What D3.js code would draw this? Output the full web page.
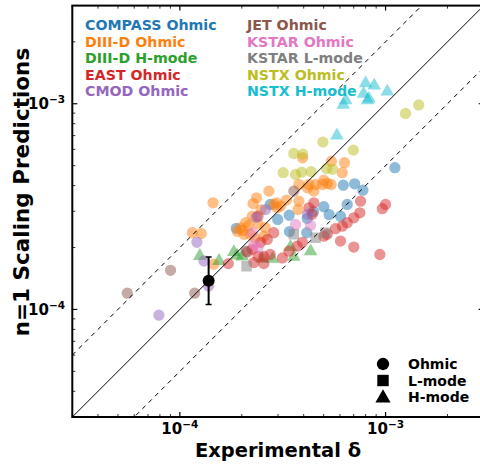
<!DOCTYPE html>
<html>
<head>
<meta charset="utf-8">
<script src="https://cdn.jsdelivr.net/npm/d3@7"></script>
<style>
  html, body { margin: 0; padding: 0; background: #fff; }
  svg { display: block; font-family: "DejaVu Sans", sans-serif; font-weight: bold; }
</style>
</head>
<body>
<svg id="chart" width="480" height="464"></svg>
<script>
// Experimental vs. predicted delta, one array of [experimental, predicted] per device/regime
const compassOhmic = [
  [1.11e-3, 4.89e-4], [6.23e-4, 4.02e-4], [7.07e-4, 4.08e-4], [7.76e-4, 3.80e-4],
  [6.51e-4, 3.24e-4], [5.32e-4, 2.89e-4], [6.04e-4, 2.84e-4], [5.01e-4, 3.16e-4],
  [3.40e-4, 2.87e-4], [2.99e-4, 2.74e-4], [2.75e-4, 3.24e-4], [4.16e-4, 2.77e-4],
  [4.46e-4, 2.99e-4], [1.88e-4, 2.48e-4], [4.14e-4, 2.36e-4], [3.41e-4, 2.39e-4]
];
const diiidOhmic = [
  [1.45e-4, 3.30e-4], [1.15e-4, 2.36e-4], [1.27e-4, 2.34e-4], [1.46e-4, 1.66e-4],
  [2.71e-4, 3.76e-4], [2.36e-4, 3.49e-4], [2.27e-4, 3.27e-4], [2.86e-4, 3.24e-4],
  [3.09e-4, 3.18e-4], [2.25e-4, 2.84e-4], [2.09e-4, 2.64e-4], [1.97e-4, 2.49e-4],
  [1.90e-4, 2.40e-4], [2.05e-4, 2.32e-4], [2.56e-4, 2.27e-4], [3.79e-4, 3.36e-4],
  [3.75e-4, 3.06e-4], [3.95e-4, 5.46e-4], [5.45e-4, 5.26e-4], [6.32e-4, 5.17e-4],
  [6.16e-4, 4.62e-4], [4.24e-4, 4.05e-4], [4.57e-4, 4.05e-4], [4.93e-4, 4.05e-4],
  [5.21e-4, 4.10e-4], [5.44e-4, 4.05e-4], [5.01e-4, 4.25e-4], [4.48e-4, 3.76e-4],
  [4.17e-4, 3.90e-4], [3.79e-4, 4.05e-4], [2.97e-4, 3.12e-4], [2.60e-4, 2.50e-4],
  [2.15e-4, 2.55e-4], [2.40e-4, 2.60e-4], [2.02e-4, 2.42e-4], [2.20e-4, 2.32e-4],
  [2.32e-4, 2.22e-4], [2.48e-4, 3.05e-4], [2.95e-4, 3.30e-4], [3.30e-4, 3.40e-4]
];
const diiidHmode = [
  [1.25e-4, 1.84e-4], [1.55e-4, 1.74e-4], [1.83e-4, 1.92e-4], [1.90e-4, 1.85e-4],
  [2.01e-4, 1.83e-4], [4.32e-4, 1.94e-4], [3.45e-4, 2.03e-4], [3.58e-4, 1.82e-4],
  [2.52e-4, 1.78e-4], [2.82e-4, 1.78e-4]
];
const eastOhmic = [
  [7.56e-4, 3.36e-4], [1.00e-3, 3.24e-4], [9.64e-4, 3.09e-4], [7.50e-4, 2.95e-4],
  [7.01e-4, 2.79e-4], [6.51e-4, 2.64e-4], [6.16e-4, 2.54e-4], [5.71e-4, 2.47e-4],
  [6.04e-4, 2.15e-4], [7.01e-4, 2.01e-4], [9.38e-4, 1.85e-4], [4.48e-4, 3.30e-4],
  [4.24e-4, 3.12e-4], [4.40e-4, 2.90e-4], [5.21e-4, 2.32e-4], [5.01e-4, 2.27e-4],
  [3.94e-4, 2.12e-4], [3.72e-4, 2.03e-4], [3.39e-4, 1.92e-4], [3.15e-4, 1.78e-4],
  [2.86e-4, 2.36e-4], [2.66e-4, 2.19e-4], [2.47e-4, 2.12e-4], [2.40e-4, 2.84e-4],
  [2.25e-4, 1.96e-4], [2.13e-4, 1.90e-4], [2.40e-4, 1.81e-4], [2.56e-4, 1.81e-4],
  [2.75e-4, 1.85e-4], [2.29e-4, 1.69e-4], [2.56e-4, 1.67e-4], [1.72e-4, 1.67e-4]
];
const cmodOhmic = [
  [1.21e-4, 2.12e-4], [1.31e-4, 1.72e-4], [1.38e-4, 1.30e-4], [7.91e-5, 9.38e-5],
  [2.61e-4, 3.06e-4], [4.17e-4, 2.90e-4], [2.35e-4, 2.80e-4]
];
const jetOhmic = [
  [5.55e-5, 1.20e-4], [1.18e-4, 1.20e-4], [9.01e-5, 1.55e-4], [3.58e-4, 3.76e-4],
  [2.10e-4, 1.92e-4]
];
const kstarOhmic = [
  [2.29e-4, 2.07e-4], [3.65e-4, 2.59e-4], [4.32e-4, 2.56e-4], [2.25e-4, 2.36e-4],
  [2.40e-4, 2.00e-4]
];
const kstarLmode = [
  [2.11e-4, 1.62e-4], [3.58e-4, 2.32e-4], [4.57e-4, 2.23e-4], [5.11e-4, 2.36e-4]
];
const nstxOhmic = [
  [1.25e-3, 8.97e-4], [1.45e-3, 9.87e-4], [4.96e-4, 6.51e-4], [6.97e-4, 5.95e-4],
  [3.58e-4, 5.73e-4], [3.96e-4, 5.69e-4], [3.18e-4, 4.62e-4], [3.65e-4, 4.53e-4],
  [3.91e-4, 4.65e-4], [4.35e-4, 4.67e-4], [5.17e-4, 4.84e-4], [5.53e-4, 4.80e-4]
];
const nstxHmode = [
  [8.00e-4, 1.27e-3], [8.81e-4, 1.24e-3], [1.02e-3, 1.16e-3], [7.82e-4, 1.13e-3],
  [8.18e-4, 1.05e-3], [6.41e-4, 1.05e-3], [6.23e-4, 1.00e-3], [5.80e-4, 7.09e-4],
  [8.30e-4, 1.07e-3]
];

// Series names, colours and marker shapes (drawn in this order)
const seriesNames = ["COMPASS Ohmic", "DIII-D Ohmic", "DIII-D H-mode", "EAST Ohmic", "CMOD Ohmic",
                     "JET Ohmic", "KSTAR Ohmic", "KSTAR L-mode", "NSTX Ohmic", "NSTX H-mode"];
const seriesData = [compassOhmic, diiidOhmic, diiidHmode, eastOhmic, cmodOhmic,
                    jetOhmic, kstarOhmic, kstarLmode, nstxOhmic, nstxHmode];
const seriesColors = ["#1f77b4", "#ff7f0e", "#2ca02c", "#d62728", "#9467bd",
                      "#8c564b", "#e377c2", "#7f7f7f", "#bcbd22", "#17becf"];
const seriesShapes = ["circle", "circle", "triangle", "circle", "circle",
                      "circle", "circle", "square", "circle", "triangle"];

// Representative point with its uncertainty
const meanPoint = { x: 1.38e-4, y: 1.38e-4, yLow: 1.057e-4, yHigh: 1.80e-4 };

// Reference lines: predicted = factor * experimental
const lineFactors = [1, 2, 0.5];

const shapeLegend = [["circle", "Ohmic"], ["square", "L-mode"], ["triangle", "H-mode"]];
const majorTicks = [1e-4, 1e-3];
const tickExponents = ["−4", "−3"];
const domain = [3e-5, 3e-3];

const svg = d3.select("#chart");
const pLeft = 72.3, pRight = 483.7, pTop = 5.6, pBottom = 417;

const x = d3.scaleLog().domain(domain).range([pLeft, pRight]);
const y = d3.scaleLog().domain(domain).range([pBottom, pTop]);

const minorTicks = [];
for (let e = -5; e <= -3; e++) {
  for (let m = 2; m <= 9; m++) {
    const v = m * Math.pow(10, e);
    if (v > domain[0] && v < domain[1]) minorTicks.push(v);
  }
}

svg.append("defs").append("clipPath").attr("id", "plotClip")
  .append("rect").attr("x", pLeft).attr("y", pTop)
  .attr("width", pRight - pLeft).attr("height", pBottom - pTop);

const plot = svg.append("g").attr("clip-path", "url(#plotClip)");

const markerSize = { circle: 100, triangle: 80, square: 110 };
const symbolType = { circle: d3.symbolCircle, triangle: d3.symbolTriangle, square: d3.symbolSquare };

seriesData.forEach((pts, i) => {
  const shape = seriesShapes[i];
  const sym = d3.symbol().type(symbolType[shape]).size(markerSize[shape]);
  plot.append("g").selectAll("path").data(pts).join("path")
    .attr("d", sym)
    .attr("transform", d => `translate(${x(d[0])},${y(d[1])})` + (shape === "triangle" ? " translate(0,1)" : ""))
    .attr("fill", seriesColors[i])
    .attr("fill-opacity", 0.5);
});

// reference lines
lineFactors.forEach(f => {
  plot.append("line")
    .attr("x1", x(domain[0])).attr("y1", y(domain[0] * f))
    .attr("x2", x(domain[1])).attr("y2", y(domain[1] * f))
    .attr("stroke", "#000").attr("stroke-width", 1)
    .attr("stroke-dasharray", f === 1 ? null : "4.5,4.5");
});

// mean point with error bar
plot.append("line")
  .attr("x1", x(meanPoint.x)).attr("x2", x(meanPoint.x))
  .attr("y1", y(meanPoint.yLow)).attr("y2", y(meanPoint.yHigh))
  .attr("stroke", "#000").attr("stroke-width", 2);
[meanPoint.yLow, meanPoint.yHigh].forEach(v => {
  plot.append("line")
    .attr("x1", x(meanPoint.x) - 3).attr("x2", x(meanPoint.x) + 3)
    .attr("y1", y(v)).attr("y2", y(v))
    .attr("stroke", "#000").attr("stroke-width", 1.5);
});
plot.append("circle")
  .attr("cx", x(meanPoint.x)).attr("cy", y(meanPoint.y)).attr("r", 6)
  .attr("fill", "#000");

// ticks (pointing inward, on all four sides)
const tickG = svg.append("g").attr("stroke", "#000");
function ticksAt(vals, len, w) {
  vals.forEach(v => {
    const px = x(v), py = y(v);
    tickG.append("line").attr("x1", px).attr("x2", px).attr("y1", pBottom).attr("y2", pBottom - len).attr("stroke-width", w);
    tickG.append("line").attr("x1", px).attr("x2", px).attr("y1", pTop).attr("y2", pTop + len).attr("stroke-width", w);
    tickG.append("line").attr("y1", py).attr("y2", py).attr("x1", pLeft).attr("x2", pLeft + len).attr("stroke-width", w);
    tickG.append("line").attr("y1", py).attr("y2", py).attr("x1", pRight).attr("x2", pRight - len).attr("stroke-width", w);
  });
}
ticksAt(majorTicks, 5, 1.2);
ticksAt(minorTicks, 3, 0.8);

// frame
svg.append("rect")
  .attr("x", pLeft).attr("y", pTop).attr("width", pRight - pLeft).attr("height", pBottom - pTop)
  .attr("fill", "none").attr("stroke", "#000").attr("stroke-width", 2);

// tick labels
function powLabel(g, txt, exp) {
  g.append("tspan").text(txt);
  g.append("tspan").text(exp).attr("font-size", 10.5).attr("dy", -6);
}
majorTicks.forEach((v, i) => {
  const t = svg.append("text").attr("x", x(v)).attr("y", 434)
    .attr("text-anchor", "middle").attr("font-size", 15).attr("fill", "#000");
  powLabel(t, "10", tickExponents[i]);
  const t2 = svg.append("text").attr("x", 65).attr("y", y(v) + 5.5)
    .attr("text-anchor", "end").attr("font-size", 15).attr("fill", "#000");
  powLabel(t2, "10", tickExponents[i]);
});

// axis titles
svg.append("text").attr("x", (pLeft + pRight) / 2).attr("y", 457)
  .attr("text-anchor", "middle").attr("font-size", 19.5).attr("fill", "#000")
  .text("Experimental δ");
svg.append("text")
  .attr("transform", `translate(29,192) rotate(-90)`)
  .attr("text-anchor", "middle").attr("font-size", 21.5).attr("fill", "#000")
  .text("n=1 Scaling Predictions");

// series legend: two columns of coloured names
seriesNames.forEach((name, i) => {
  const col = Math.floor(i / 5), row = i % 5;
  svg.append("text")
    .attr("x", col === 0 ? 85 : 247)
    .attr("y", 25 + row * 16.6 + 5)
    .attr("font-size", 14.2)
    .attr("fill", seriesColors[i])
    .text(name);
});

// marker shape legend
shapeLegend.forEach(([shape, label], i) => {
  const cy = 364 + i * 16.5;
  svg.append("path")
    .attr("d", d3.symbol().type(symbolType[shape]).size(shape === "circle" ? 120 : (shape === "square" ? 130 : 100)))
    .attr("transform", `translate(383,${cy + (shape === "triangle" ? 1 : 0)})`)
    .attr("fill", "#000");
  svg.append("text").attr("x", 408).attr("y", cy + 5)
    .attr("font-size", 14).attr("fill", "#000").text(label);
});
</script>
</body>
</html>
